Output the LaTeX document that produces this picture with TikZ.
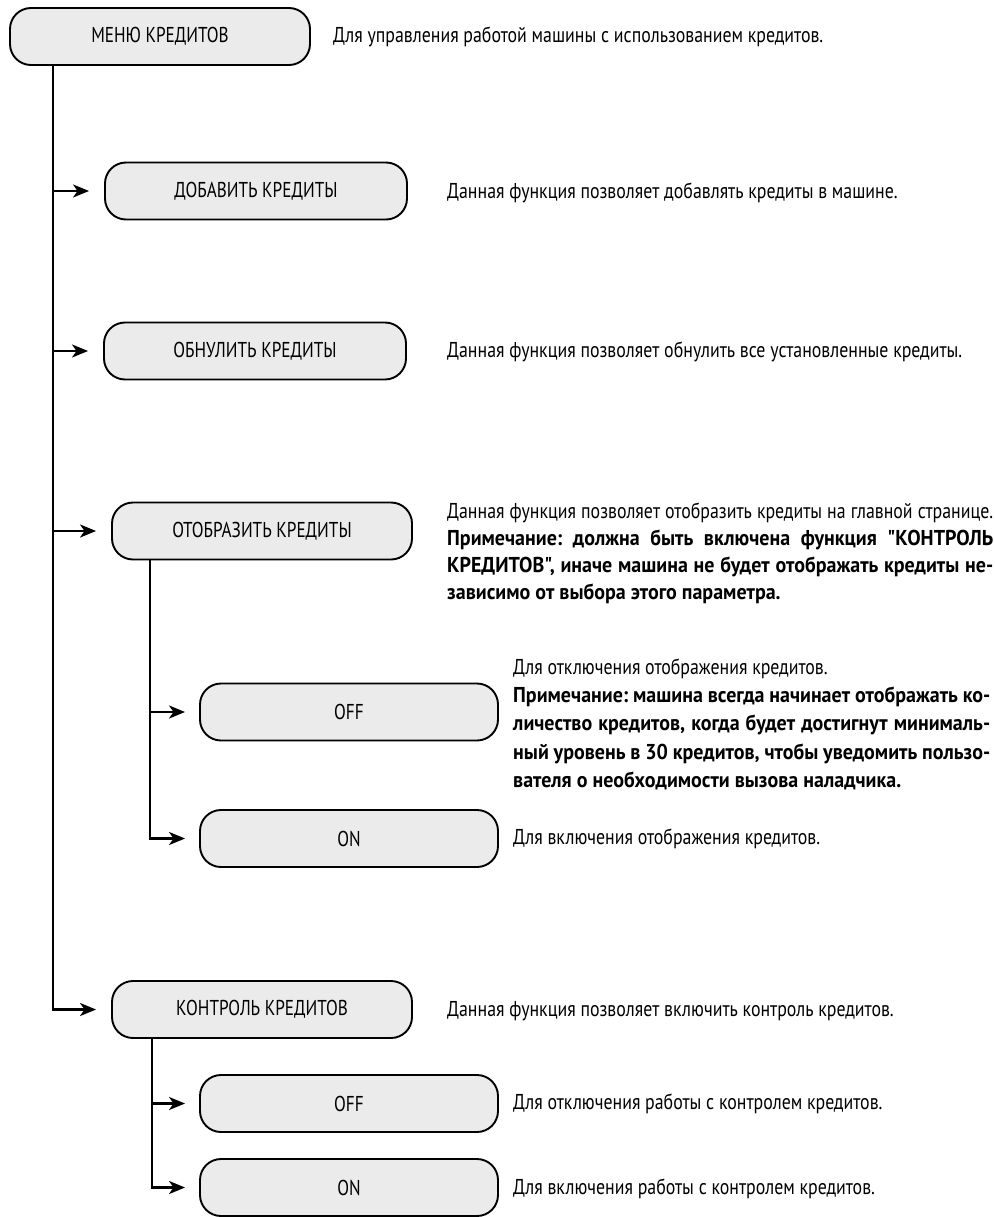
\documentclass[tikz,border=0pt]{standalone}
\usepackage{fontspec}
\setmainfont{PT Sans}[FakeStretch=0.83, Ligatures=TeXOff, BoldFeatures={FakeStretch=0.93}]
\newfontfamily\boxfont{PT Sans}[FakeStretch=0.80, Ligatures=TeXOff]
\usetikzlibrary{arrows.meta}
\definecolor{boxfill}{HTML}{EBEBEB}
\newcommand{\jpar}[2]{\parbox[t]{#1}{\frenchspacing\tolerance=10000 \hbadness=10000 \hyphenpenalty=10000 \exhyphenpenalty=10000 \parfillskip=0pt plus 1fil #2}}
\tikzset{
  menubox/.style={draw, line width=1.9pt, fill=boxfill, rounded corners=21pt,
    minimum height=57pt, inner sep=0pt, font=\boxfont\fontsize{21.5}{24}\selectfont},
  desc/.style={anchor=base west, inner sep=0pt, font=\fontsize{21.5}{27}\selectfont},
  arr/.style={line width=2.5pt, -{Stealth[length=16pt,width=13pt,inset=4.5pt]}}
}
\begin{document}
\begin{tikzpicture}[x=1pt,y=-1pt]
\useasboundingbox (0,0) rectangle (994,1217);
% boxes
\node[menubox, minimum width=300pt] (menu) at (160,36.5) {МЕНЮ КРЕДИТОВ};
\node[menubox, minimum width=302pt] (add) at (256,191) {ДОБАВИТЬ КРЕДИТЫ};
\node[menubox, minimum width=302pt] (reset) at (255,351) {ОБНУЛИТЬ КРЕДИТЫ};
\node[menubox, minimum width=300pt] (show) at (262,531) {ОТОБРАЗИТЬ КРЕДИТЫ};
\node[menubox, minimum width=298pt] (showoff) at (349,712) {OFF};
\node[menubox, minimum width=298pt] (showon) at (349,838.5) {ON};
\node[menubox, minimum width=300pt] (ctrl) at (262,1009.5) {КОНТРОЛЬ КРЕДИТОВ};
\node[menubox, minimum width=298pt] (ctrloff) at (349,1103.5) {OFF};
\node[menubox, minimum width=298pt] (ctrlon) at (349,1187.5) {ON};
% trunk coordinates
\coordinate (trunk) at (53,0);
\coordinate (subA) at (150,0);
\coordinate (subB) at (152,0);
% connectors
\draw[arr] (menu.south -| trunk) |- ([xshift=-15pt]ctrl.west);
\draw[arr] (add.west -| trunk) -- ([xshift=-15pt]add.west);
\draw[arr] (reset.west -| trunk) -- ([xshift=-15pt]reset.west);
\draw[arr] (show.west -| trunk) -- ([xshift=-15pt]show.west);
\draw[arr] (show.south -| subA) |- ([xshift=-14pt]showon.west);
\draw[arr] (showoff.west -| subA) -- ([xshift=-14pt]showoff.west);
\draw[arr] (ctrl.south -| subB) |- ([xshift=-14pt]ctrlon.west);
\draw[arr] (ctrloff.west -| subB) -- ([xshift=-14pt]ctrloff.west);
% descriptions
\node[desc] (dmenu) at (333,43) {Для управления работой машины с использованием кредитов.};
\node[desc] (dadd) at (447,198) {Данная функция позволяет добавлять кредиты в машине.};
\node[desc] (dreset) at (447,357) {Данная функция позволяет обнулить все установленные кредиты.};
\node[desc] (dshow) at (447,518) {\jpar{546pt}{Данная функция позволяет отобразить кредиты на главной странице.\linebreak
\textbf{Примечание: должна быть включена функция "КОНТРОЛЬ\linebreak
КРЕДИТОВ", иначе машина не будет отображать кредиты не-\linebreak
зависимо от выбора этого параметра.}}};
\node[desc, font=\fontsize{21.5}{28.4}\selectfont] (doff1) at (513,674) {\jpar{477pt}{Для отключения отображения кредитов.\newline
\textbf{Примечание: машина всегда начинает отображать ко-\linebreak
личество кредитов, когда будет достигнут минималь-\linebreak
ный уровень в 30 кредитов, чтобы уведомить пользо-\linebreak
вателя о необходимости вызова наладчика.}}};
\node[desc] (don1) at (513,844) {Для включения отображения кредитов.};
\node[desc] (dctrl) at (447,1016) {Данная функция позволяет включить контроль кредитов.};
\node[desc] (doff2) at (513,1109) {Для отключения работы с контролем кредитов.};
\node[desc] (don2) at (513,1194) {Для включения работы с контролем кредитов.};
\end{tikzpicture}
\end{document}
